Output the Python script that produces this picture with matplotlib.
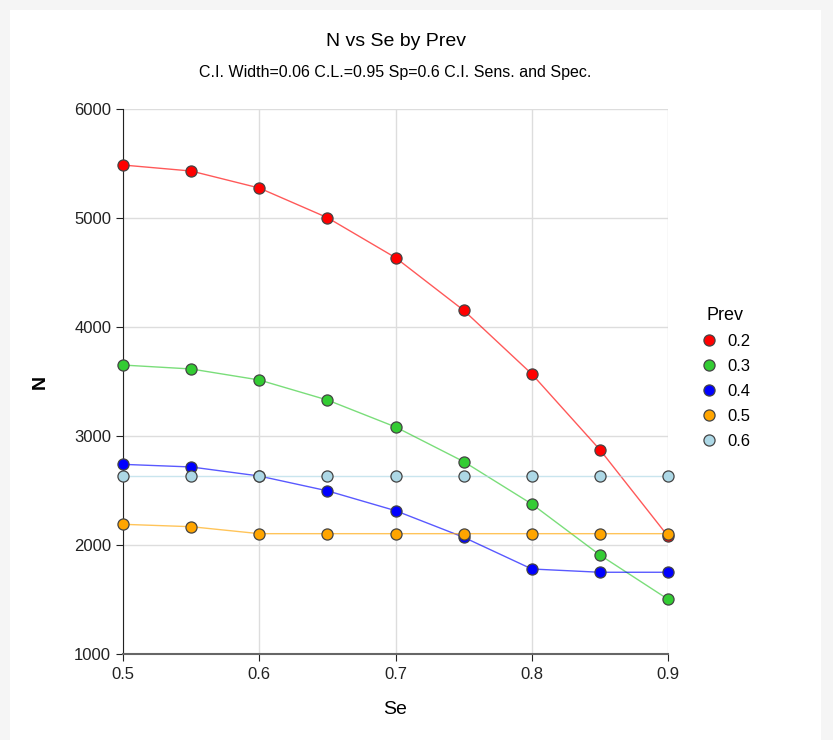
import matplotlib.pyplot as plt
from matplotlib.patches import Rectangle

plt.rcParams['font.family'] = ['Liberation Sans', 'DejaVu Sans']

se = [0.5, 0.55, 0.6, 0.65, 0.7, 0.75, 0.8, 0.85, 0.9]
prev = ['0.2', '0.3', '0.4', '0.5', '0.6']

n_02 = [5486, 5431, 5275, 5003, 4636, 4153, 3569, 2874, 2080]
n_03 = [3651, 3615, 3514, 3330, 3083, 2765, 2376, 1908, 1502]
n_04 = [2740, 2716, 2633, 2497, 2315, 2071, 1780, 1750, 1750]
n_05 = [2190, 2168, 2104, 2104, 2104, 2104, 2104, 2104, 2104]
n_06 = [2634, 2634, 2634, 2634, 2634, 2634, 2634, 2634, 2634]

series = [n_02, n_03, n_04, n_05, n_06]
colors = ['#ff0000', '#33cc33', '#0000ff', '#ffa500', '#add8e6']

fig = plt.figure(figsize=(8.33, 7.40), dpi=100)
fig.patch.set_facecolor('#f5f5f5')
fig.patches.append(Rectangle((10 / 833, 0), 811 / 833, 730 / 740,
                             transform=fig.transFigure, facecolor='white',
                             edgecolor='none', zorder=-5))

ax = fig.add_axes([0.1477, 0.1162, 0.6543, 0.7365])
ax.set_zorder(1)
ax.set_facecolor('white')

# lines first, markers on top so the dots overlap the lines
for vals, c in zip(series, colors):
    ax.plot(se, vals, color=c, lw=1.0, alpha=0.65, zorder=2)
for vals, c, p in zip(series, colors, prev):
    ax.plot(se, vals, ls='none', marker='o', ms=8, mfc=c, mec='#444444',
            mew=0.9, label=p, zorder=3, clip_on=False)

ax.set_xlim(0.5, 0.9)
ax.set_ylim(1000, 6000)
ax.set_xticks([0.5, 0.6, 0.7, 0.8, 0.9])
ax.set_xticklabels(['0.5', '0.6', '0.7', '0.8', '0.9'])
ax.set_yticks([1000, 2000, 3000, 4000, 5000, 6000])
ax.grid(True, color='#dddddd', lw=1)
ax.set_axisbelow(True)

for s in ['top', 'right']:
    ax.spines[s].set_visible(False)
ax.spines['left'].set_color('#222222')
ax.spines['bottom'].set_color('#666666')
ax.spines['bottom'].set_linewidth(1.5)
ax.tick_params(axis='both', labelsize=12, colors='#222222', length=5)
ax.tick_params(axis='x', pad=4)

ax.set_xlabel('Se', fontsize=14, labelpad=14)
ax.set_ylabel('N', fontsize=14, fontweight='bold', labelpad=18)

fig.text(0.5 * (123 + 668) / 833, 1 - 42 / 740, 'N vs Se by Prev',
         ha='center', va='center', fontsize=14)
fig.text(0.5 * (123 + 668) / 833, 1 - 72 / 740,
         'C.I. Width=0.06 C.L.=0.95 Sp=0.6 C.I. Sens. and Spec.',
         ha='center', va='center', fontsize=11.5)

leg = ax.legend(title='Prev', loc='upper left', bbox_to_anchor=(1.03, 0.665),
                frameon=False, fontsize=12, title_fontsize=13,
                handletextpad=0.5, labelspacing=0.6, handlelength=1.2)

fig.savefig('out.png', dpi=100, facecolor=fig.get_facecolor())
